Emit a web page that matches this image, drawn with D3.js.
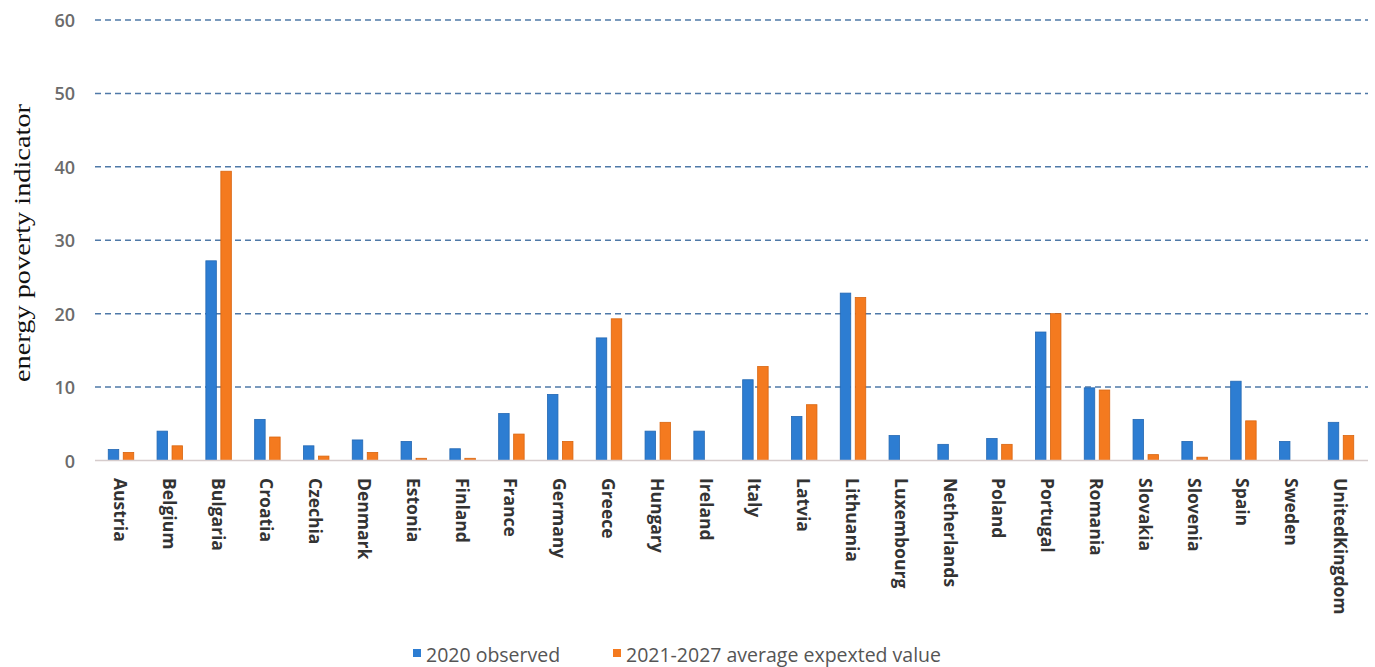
<!DOCTYPE html>
<html>
<head>
<meta charset="utf-8">
<script src="https://cdn.jsdelivr.net/npm/d3@7"></script>
<style>
  html, body { margin: 0; padding: 0; background: #ffffff; }
  svg { display: block; }
</style>
</head>
<body>
<svg id="chart" width="1375" height="667"></svg>
<script>
const categories = ["Austria","Belgium","Bulgaria","Croatia","Czechia","Denmark","Estonia","Finland","France","Germany","Greece","Hungary","Ireland","Italy","Latvia","Lithuania","Luxembourg","Netherlands","Poland","Portugal","Romania","Slovakia","Slovenia","Spain","Sweden","UnitedKingdom"];
const observed2020 = [1.5, 4.0, 27.2, 5.6, 2.0, 2.8, 2.6, 1.6, 6.4, 9.0, 16.7, 4.0, 4.0, 11.0, 6.0, 22.8, 3.4, 2.2, 3.0, 17.5, 9.9, 5.6, 2.6, 10.8, 2.6, 5.2];
const expected2127 = [1.1, 2.0, 39.4, 3.2, 0.6, 1.1, 0.3, 0.3, 3.6, 2.6, 19.3, 5.2, null, 12.8, 7.6, 22.2, null, null, 2.2, 20.0, 9.6, 0.8, 0.45, 5.4, null, 3.4];
const seriesNames = ["2020 observed", "2021-2027 average expexted value"];
const yTicks = [0, 10, 20, 30, 40, 50, 60];
const yTitle = "energy poverty indicator";

const colors = ["#2d7dd2", "#f47a1f"];
const strokes = ["#2468b3", "#d9650f"];

const svg = d3.select("#chart");
const x = d3.scaleBand().domain(categories).range([96.6, 1365.4]).padding(0);
const xs = d3.scaleBand().domain(seriesNames).range([0, x.bandwidth()]).paddingInner(0.3).paddingOuter(0.777);
const y = d3.scaleLinear().domain([0, 60]).range([460.5, 20]);

// gridlines
svg.append("g").selectAll("line").data(yTicks.filter(t => t > 0)).join("line")
  .attr("x1", 95).attr("x2", 1368)
  .attr("y1", d => y(d)).attr("y2", d => y(d))
  .attr("stroke", "#4f79a8").attr("stroke-width", 1.5)
  .attr("stroke-dasharray", "6,4");

// y tick labels
svg.append("g").selectAll("text").data(yTicks).join("text")
  .attr("x", 75).attr("y", d => y(d))
  .attr("text-anchor", "end").attr("dominant-baseline", "central")
  .attr("font-family", "'Open Sans', sans-serif").attr("font-weight", 600)
  .attr("font-size", 18).attr("fill", "#6b6b6b")
  .text(d => d);

// y title
svg.append("text")
  .attr("transform", `translate(22,243) rotate(-90)`)
  .attr("text-anchor", "middle").attr("dominant-baseline", "central")
  .attr("font-family", "'Liberation Serif', 'Times New Roman', serif")
  .attr("font-size", 23).attr("fill", "#111")
  .attr("textLength", 278).attr("lengthAdjust", "spacingAndGlyphs")
  .text(yTitle);

// bars
const seriesData = [observed2020, expected2127];
seriesData.forEach((vals, si) => {
  svg.append("g").selectAll("rect")
    .data(categories.map((c, i) => ({c, v: vals[i]})).filter(d => d.v != null))
    .join("rect")
    .attr("x", d => x(d.c) + xs(seriesNames[si]))
    .attr("width", xs.bandwidth())
    .attr("y", d => y(d.v))
    .attr("height", d => y(0) - y(d.v))
    .attr("fill", colors[si])
    .attr("stroke", strokes[si]).attr("stroke-width", 0.8);
});

// baseline
svg.append("line").attr("x1", 95).attr("x2", 1368)
  .attr("y1", y(0)).attr("y2", y(0))
  .attr("stroke", "#d6cccc").attr("stroke-width", 1.5);

// x labels
svg.append("g").selectAll("text").data(categories).join("text")
  .attr("transform", d => `translate(${x(d) + x.bandwidth() / 2},478) rotate(90)`)
  .attr("text-anchor", "start").attr("dominant-baseline", "central")
  .attr("font-family", "'Open Sans', sans-serif").attr("font-weight", 700)
  .attr("font-size", 17.5).attr("fill", "#333")
  .text(d => d);

// legend
const legendX = [413, 613];
const lg = svg.append("g");
seriesNames.forEach((n, i) => {
  lg.append("rect").attr("x", legendX[i]).attr("y", 649).attr("width", 8).attr("height", 8)
    .attr("fill", colors[i]);
  lg.append("text").attr("x", legendX[i] + 13).attr("y", 654)
    .attr("dominant-baseline", "central")
    .attr("font-family", "'Open Sans', sans-serif").attr("font-size", 19.5)
    .attr("fill", "#555").text(n);
});
</script>
</body>
</html>
